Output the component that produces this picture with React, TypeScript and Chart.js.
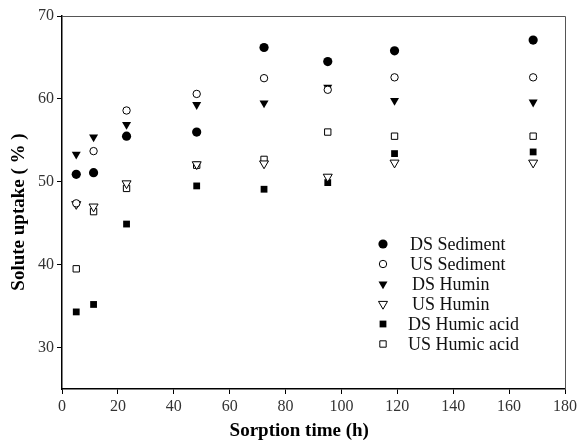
import React, { useEffect, useRef } from "react";
import { Chart, registerables } from "chart.js";
import { drawPoint } from "chart.js/helpers";

Chart.register(...registerables);

const sorptionTimes = [5.1, 11.3, 23.1, 48.2, 72.3, 95.1, 119, 168.6];
const dsSediment = [50.9, 51.1, 55.5, 56.0, 66.2, 64.5, 65.8, 67.1];
const usSediment = [47.4, 53.7, 58.6, 60.6, 62.5, 61.1, 62.6, 62.6];
const dsHumin = [53.3, 55.4, 56.9, 59.3, 59.5, 61.4, 59.8, 59.6];
const usHumin = [47.3, 47.0, 49.8, 52.1, 52.2, 50.6, 52.3, 52.3];
const dsHumicAcid = [34.3, 35.2, 44.9, 49.5, 49.1, 49.9, 53.4, 53.6];
const usHumicAcid = [39.5, 46.4, 49.2, 52.0, 52.7, 56.0, 55.5, 55.5];

const seriesNames = [
  "DS Sediment",
  "US Sediment",
  "DS Humin",
  "US Humin",
  "DS Humic acid",
  "US Humic acid",
];
const xTicks = [0, 20, 40, 60, 80, 100, 120, 140, 160, 180];
const yTicks = [30, 40, 50, 60, 70];

const SERIF = "'Liberation Serif', 'Times New Roman', serif";

const styles = [
  { pointStyle: "circle", rotation: 0, radius: 4.6, fill: "#000", borderWidth: 0 },
  { pointStyle: "circle", rotation: 0, radius: 3.7, fill: "#fff", borderWidth: 1 },
  { pointStyle: "triangle", rotation: 180, radius: 5.2, fill: "#000", borderWidth: 0 },
  { pointStyle: "triangle", rotation: 180, radius: 5.2, fill: "#fff", borderWidth: 1 },
  { pointStyle: "rect", rotation: 0, radius: 4.8, fill: "#000", borderWidth: 0 },
  { pointStyle: "rect", rotation: 0, radius: 4.5, fill: "#fff", borderWidth: 1 },
];

const frameAndLegend = {
  id: "frameAndLegend",
  afterDatasetsDraw(chart: any) {
    const { ctx, chartArea } = chart;
    ctx.save();
    // top and right frame lines
    ctx.strokeStyle = "#555";
    ctx.lineWidth = 1;
    ctx.beginPath();
    ctx.moveTo(chartArea.left, chartArea.top + 0.5);
    ctx.lineTo(chartArea.right + 0.5, chartArea.top + 0.5);
    ctx.lineTo(chartArea.right + 0.5, chartArea.bottom);
    ctx.stroke();

    // legend inside plot area
    const mx = chartArea.left + 321;
    const y0 = chartArea.top + 228;
    const step = 20;
    const textOffsets = [27, 27, 29, 29, 25, 25];
    ctx.font = `18px ${SERIF}`;
    ctx.textBaseline = "middle";
    ctx.textAlign = "left";
    seriesNames.forEach((name, i) => {
      const s = styles[i];
      const y = y0 + i * step;
      ctx.fillStyle = s.fill;
      ctx.strokeStyle = "#000";
      ctx.lineWidth = s.borderWidth;
      drawPoint(ctx, { pointStyle: s.pointStyle, rotation: s.rotation, radius: s.radius, borderWidth: s.borderWidth } as any, mx, y);
      ctx.fillStyle = "#111";
      ctx.fillText(name, mx + textOffsets[i], y + 1);
    });
    ctx.restore();
  },
};

export default function App() {
  const canvasRef = useRef<HTMLCanvasElement | null>(null);

  useEffect(() => {
    if (!canvasRef.current) return;
    const seriesValues = [dsSediment, usSediment, dsHumin, usHumin, dsHumicAcid, usHumicAcid];
    const datasets = seriesValues.map((vals, i) => ({
      label: seriesNames[i],
      data: vals.map((v, j) => ({ x: sorptionTimes[j], y: v })),
      showLine: false,
      pointStyle: styles[i].pointStyle as any,
      rotation: styles[i].rotation,
      pointRadius: styles[i].radius,
      pointBackgroundColor: styles[i].fill,
      pointBorderColor: "#000",
      pointBorderWidth: styles[i].borderWidth,
      order: i,
    }));

    const chart = new Chart(canvasRef.current, {
      type: "scatter",
      data: { datasets },
      options: {
        animation: false,
        responsive: false,
        devicePixelRatio: 1,
        layout: { padding: { top: 16, right: 14, left: 0, bottom: 0 } },
        plugins: { legend: { display: false }, tooltip: { enabled: false } },
        scales: {
          x: {
            type: "linear",
            min: 0,
            max: 180,
            afterBuildTicks: (s: any) => {
              s.ticks = xTicks.map((v) => ({ value: v }));
            },
            afterFit: (s: any) => {
              s.height = 53;
            },
            grid: { drawOnChartArea: false, drawTicks: true, tickLength: 5, color: "#000", lineWidth: 1 },
            border: { display: true, color: "#000", width: 1.5 },
            ticks: { color: "#333", font: { family: SERIF, size: 16 }, padding: 3, maxRotation: 0 },
            title: {
              display: true,
              text: "Sorption time (h)      ",
              color: "#000",
              font: { family: SERIF, size: 19, weight: "bold" },
              padding: { top: 0, bottom: 0 },
            },
          },
          y: {
            type: "linear",
            min: 25,
            max: 70,
            afterBuildTicks: (s: any) => {
              s.ticks = yTicks.map((v) => ({ value: v }));
            },
            afterFit: (s: any) => {
              s.width = 62;
            },
            grid: { drawOnChartArea: false, drawTicks: true, tickLength: 5, color: "#000", lineWidth: 1 },
            border: { display: true, color: "#000", width: 1.5 },
            ticks: { color: "#333", font: { family: SERIF, size: 16 }, padding: 3 },
            title: {
              display: true,
              text: "Solute uptake ( % )    ",
              color: "#000",
              font: { family: SERIF, size: 19, weight: "bold" },
              padding: { top: 8, bottom: 0 },
            },
          },
        },
      },
      plugins: [frameAndLegend],
    } as any);

    return () => chart.destroy();
  }, []);

  return (
    <div style={{ position: "fixed", left: 0, top: 0, width: 580, height: 442, background: "#fff" }}>
      <canvas ref={canvasRef} width={580} height={442} />
    </div>
  );
}
